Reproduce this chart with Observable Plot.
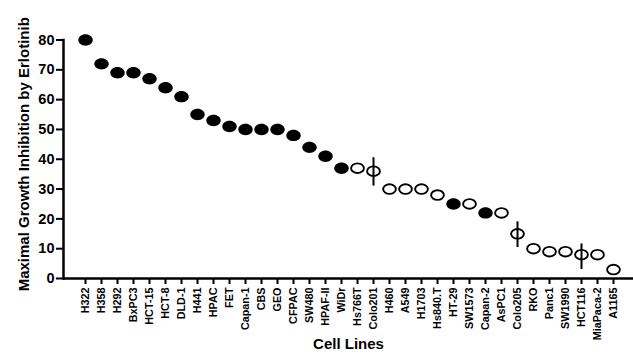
<!DOCTYPE html>
<html>
<head>
<meta charset="utf-8">
<script src="https://cdn.jsdelivr.net/npm/d3@7"></script>
<script src="https://cdn.jsdelivr.net/npm/@observablehq/plot@0.6"></script>
<style>
  html, body { margin: 0; padding: 0; background: #fff; }
</style>
</head>
<body>
<div id="chart"></div>
<script>
const cellLines = ["H322","H358","H292","BxPC3","HCT-15","HCT-8","DLD-1","H441","HPAC","FET","Capan-1","CBS","GEO","CFPAC","SW480","HPAF-II","WiDr","Hs766T","Colo201","H460","A549","H1703","Hs840.T","HT-29","SW1573","Capan-2","AsPC1","Colo205","RKO","Panc1","SW1990","HCT116","MiaPaca-2","A1165"];
const inhibition = [80,72,69,69,67,64,61,55,53,51,50,50,50,48,44,41,37,37,36,30,30,30,28,25,25,22,22,15,10,9,9,8,8,3];
const filled = [1,1,1,1,1,1,1,1,1,1,1,1,1,1,1,1,1,0,0,0,0,0,0,1,0,1,0,0,0,0,0,0,0,0];
const errLines = ["Colo201","Colo205","HCT116"];
const errLow = [31,10.4,3];
const errHigh = [40.5,19,11.6];
const yTicks = [0,10,20,30,40,50,60,70,80];

const data = cellLines.map((c,i) => ({cell: c, value: inhibition[i], filled: filled[i] === 1}));
const errs = errLines.map((c,i) => ({cell: c, lo: errLow[i], hi: errHigh[i]}));

function ellipse(rx, ry) {
  const k = 0.5523;
  return {
    draw(context) {
      context.moveTo(rx, 0);
      context.bezierCurveTo(rx, ry * k, rx * k, ry, 0, ry);
      context.bezierCurveTo(-rx * k, ry, -rx, ry * k, -rx, 0);
      context.bezierCurveTo(-rx, -ry * k, -rx * k, -ry, 0, -ry);
      context.bezierCurveTo(rx * k, -ry, rx, -ry * k, rx, 0);
      context.closePath();
    }
  };
}

const chart = Plot.plot({
  width: 633,
  height: 356,
  marginLeft: 63,
  marginRight: 0,
  marginTop: 39.5,
  marginBottom: 78,
  style: {fontFamily: "Arial, 'Liberation Sans', sans-serif", fontWeight: "bold", color: "#000", background: "#fff"},
  x: {type: "point", domain: cellLines, range: [72.5, 625.5]},
  y: {domain: [0, 80]},
  marks: [
    Plot.axisY({ticks: yTicks, tickSize: 7, tickPadding: 2, fontSize: 14.5, label: null, strokeWidth: 2}),
    Plot.axisX({tickSize: 6, tickPadding: 3, tickRotate: -90, fontSize: 10.8, label: null, strokeWidth: 2}),
    Plot.ruleY([0], {stroke: "#000", strokeWidth: 2.5}),
    Plot.frame({anchor: "left", stroke: "#000", strokeWidth: 2.5}),
    Plot.ruleX(errs, {x: "cell", y1: "lo", y2: "hi", stroke: "#000", strokeWidth: 2}),
    Plot.dot(data.filter(d => d.filled), {x: "cell", y: "value", symbol: ellipse(7.2, 5.7), fill: "#000", stroke: "none"}),
    Plot.dot(data.filter(d => !d.filled), {x: "cell", y: "value", symbol: ellipse(6.4, 4.8), fill: "none", stroke: "#000", strokeWidth: 1.9}),
    Plot.text(["Maximal Growth Inhibition by Erlotinib"], {frameAnchor: "left", textAnchor: "middle", dx: -39, dy: -5, rotate: -90, fontSize: 15, fontWeight: "bold", fill: "#000"}),
    Plot.text(["Cell Lines"], {frameAnchor: "bottom", dy: 70, fontSize: 15, fontWeight: "bold", fill: "#000"})
  ]
});
document.getElementById("chart").appendChild(chart);
</script>
</body>
</html>
